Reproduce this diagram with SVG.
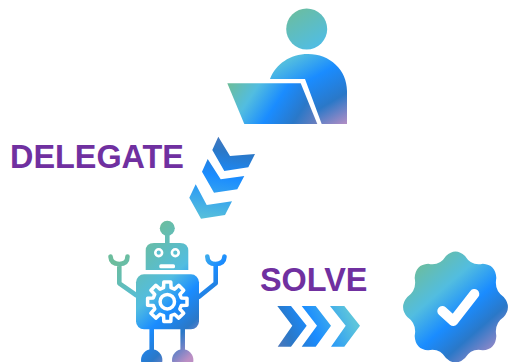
<svg xmlns="http://www.w3.org/2000/svg" width="508" height="362" viewBox="0 0 508 362">
<defs>
<linearGradient id="gp" gradientUnits="userSpaceOnUse" x1="285" y1="12" x2="350" y2="124"><stop offset="0" stop-color="#6cbd9d"/><stop offset=".34" stop-color="#52bde0"/><stop offset=".55" stop-color="#1a8cff"/><stop offset=".78" stop-color="#2a78c8"/><stop offset="1" stop-color="#bc8fc4"/></linearGradient>
<linearGradient id="gl" gradientUnits="userSpaceOnUse" x1="232" y1="80" x2="315" y2="135"><stop offset="0" stop-color="#6cbd9d"/><stop offset=".25" stop-color="#52bde0"/><stop offset=".5" stop-color="#1a8cff"/><stop offset=".75" stop-color="#2a78c8"/><stop offset="1" stop-color="#7d80bb"/></linearGradient>
<linearGradient id="gr" gradientUnits="userSpaceOnUse" x1="119" y1="260" x2="201" y2="347.5"><stop offset="0" stop-color="#6cbd9d"/><stop offset=".4" stop-color="#52bde0"/><stop offset=".6" stop-color="#1a8cff"/><stop offset=".8" stop-color="#2a78c8"/><stop offset="1" stop-color="#bc8fc4"/></linearGradient>
<linearGradient id="gb" x1=".15" y1=".1" x2=".85" y2=".95"><stop offset="0" stop-color="#6cbd9d"/><stop offset=".3" stop-color="#52bde0"/><stop offset=".55" stop-color="#1a8cff"/><stop offset=".75" stop-color="#2a78c8"/><stop offset="1" stop-color="#a88cc8"/></linearGradient>
<linearGradient id="gd" gradientUnits="userSpaceOnUse" x1="226" y1="132" x2="212" y2="220"><stop offset="0" stop-color="#4f78ba"/><stop offset=".22" stop-color="#2a78c8"/><stop offset=".5" stop-color="#1a8cff"/><stop offset="1" stop-color="#58c0da"/></linearGradient>
<linearGradient id="gs" gradientUnits="userSpaceOnUse" x1="278" y1="348" x2="350" y2="314"><stop offset="0" stop-color="#4f78ba"/><stop offset=".2" stop-color="#2a78c8"/><stop offset=".5" stop-color="#1a8cff"/><stop offset="1" stop-color="#5cc4dc"/></linearGradient>
</defs>
<style>
.lbl{font-family:"Liberation Sans",Arial,sans-serif;font-weight:700;font-size:32.4px;fill:#7030a0}
.limb{fill:none;stroke:url(#gr);stroke-width:4.6;stroke-linecap:round;stroke-linejoin:round}
.wl{fill:none;stroke:#fff;stroke-width:3.5;stroke-linejoin:round}
</style>
<g id="person">
<circle cx="306.7" cy="29" r="20.5" fill="url(#gp)"/>
<path d="M270 79C276 64 290 54 308 54C330 54 347 70 347 91V124H321.7L305 79Z" fill="url(#gp)"/>
<path d="M227.3 83.3H300.7L317.3 124H244.3Z" fill="url(#gl)"/>
</g>
<g id="delegate-label"><text class="lbl" x="10" y="168">DELEGATE</text></g>
<g id="solve-label"><text class="lbl" x="260" y="290.5">SOLVE</text></g>
<g id="connectors">
<g id="delegate-arrow" fill="url(#gd)">
<path d="M218.3 136.7L230 156L255 154L248.3 167.3L224.3 171L212.3 150Z"/>
<path d="M207.7 159L220.7 179.3L244.3 176L237.3 189.3L214 192.7L202 171.7Z"/>
<path d="M195.7 184.3L206.7 205L232 201.3L225 215L201 218.7L189.3 197.7Z"/>
</g>
<g id="solve-arrow" fill="url(#gs)">
<path d="M277.3 306H291L306.7 325.7L291 346.7H277.7L292.3 325.7Z"/>
<path d="M301.7 306H315.7L331 325.7L315.7 346.7H301.7L317 325.7Z"/>
<path d="M330 306H344.3L360 325.7L344.3 346.7H331L345.7 325.7Z"/>
</g>
</g>
<g id="robot">
<circle cx="167.3" cy="228.3" r="7.5" fill="url(#gr)"/>
<path class="limb" d="M167.3 234V244"/>
<path d="M154 243H180Q188.3 243 188.3 251V270H145.7V251Q145.7 243 154 243Z" fill="url(#gr)"/>
<circle cx="158.7" cy="252.7" r="3.4" fill="#5abfd0" stroke="#fff" stroke-width="2.6"/>
<circle cx="175.3" cy="252.7" r="3.4" fill="#5abfd0" stroke="#fff" stroke-width="2.6"/>
<rect x="159.3" y="264.3" width="15.7" height="4" rx="1.5" fill="#fff"/>
<path class="limb" d="M136 295L119.3 283.3V264M110.5 256.5Q111 264 119.3 264Q127.5 264 127.5 256.5"/>
<path class="limb" d="M199 296.7L215.7 283.3V264M207.3 256.5Q207.5 264 215.7 264Q224 264 224.5 256.5"/>
<path class="limb" d="M151.7 329V352M182.7 329V352"/>
<rect x="136" y="274.3" width="63" height="55" rx="8" fill="url(#gr)"/>
<circle cx="151.7" cy="360" r="10.7" fill="url(#gr)"/>
<circle cx="182.7" cy="360" r="10.7" fill="url(#gr)"/>
<g transform="translate(167.3 301.7)">
<path class="wl" d="M14 -3.75L19.7 -3.5V3.5L14 3.75L12.55 7.25L16.4 11.46L11.46 16.4L7.25 12.55L3.75 14L3.5 19.7H-3.5L-3.75 14L-7.25 12.55L-11.46 16.4L-16.4 11.46L-12.55 7.25L-14 3.75L-19.7 3.5V-3.5L-14 -3.75L-12.55 -7.25L-16.4 -11.46L-11.46 -16.4L-7.25 -12.55L-3.75 -14L-3.5 -19.7H3.5L3.75 -14L7.25 -12.55L11.46 -16.4L16.4 -11.46L12.55 -7.25Z"/>
<circle r="7.2" class="wl"/>
</g>
</g>
<g id="badge">
<path transform="translate(455.5 307) scale(.945 1)" fill="url(#gb)" d="M51 -10.1Q60 0 51 10.1Q40.65 16.84 43.2 28.9Q42.43 42.43 28.9 43.2Q16.84 40.65 10.1 51Q0 60 -10.1 51Q-16.84 40.65 -28.9 43.2Q-42.43 42.43 -43.2 28.9Q-40.65 16.84 -51 10.1Q-60 0 -51 -10.1Q-40.65 -16.84 -43.2 -28.9Q-42.43 -42.43 -28.9 -43.2Q-16.84 -40.65 -10.1 -51Q0 -60 10.1 -51Q16.84 -40.65 28.9 -43.2Q42.43 -42.43 43.2 -28.9Q40.65 -16.84 51 -10.1Z"/>
<path d="M442.3 311L453.3 321L474.3 294" fill="none" stroke="#fff" stroke-width="10" stroke-linecap="round" stroke-linejoin="round"/>
</g>
</svg>
